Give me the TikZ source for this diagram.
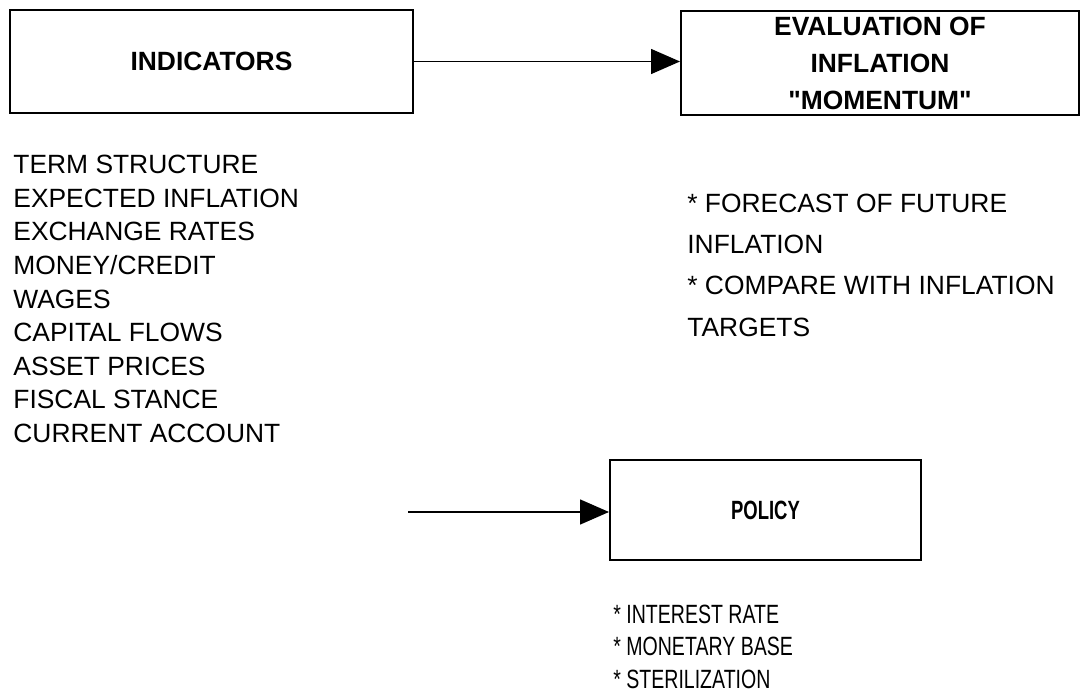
\documentclass[tikz,border=0pt]{standalone}
\usepackage{fontspec}
\usepackage{graphicx}
\setmainfont{Liberation Sans}[Ligatures=TeXOff]
\usetikzlibrary{arrows.meta,positioning}

\begin{document}
\begin{tikzpicture}[x=0.5pt,y=-0.5pt,
  box/.style={draw, line width=1pt, inner sep=0pt, align=center,
    font=\bfseries\fontsize{13.2}{18.5}\selectfont},
  item/.style={anchor=base west, inner sep=0pt, font=\fontsize{13.2}{16}\selectfont},
  link/.style={line width=0.75pt, -{Triangle[length=14.5pt,width=12.5pt]}}]
 \useasboundingbox (0,0) rectangle (1082,695);
 % boxes
 \node[box, minimum width=201.5pt, minimum height=51.5pt] (indicators) at (211.5,61.5) {INDICATORS};
 \node[box, minimum width=199pt, minimum height=52pt] (evaluation) at (880,63) {EVALUATION OF\\INFLATION\\"MOMENTUM"};
 \node[box, minimum width=155.5pt, minimum height=50pt] (policy) at (765.5,510) {\scalebox{0.7}[1]{POLICY}};
 % lists
 \foreach \txt [count=\i] in {TERM STRUCTURE, EXPECTED INFLATION, EXCHANGE RATES, MONEY/CREDIT, WAGES,
   CAPITAL FLOWS, ASSET PRICES, FISCAL STANCE, CURRENT ACCOUNT}
  \node[item] (ind\i) at (13,140.5+33.5*\i) {\txt};
 \foreach \txt [count=\i] in {* FORECAST OF FUTURE, INFLATION, * COMPARE WITH INFLATION, TARGETS}
  \node[item] (eval\i) at (687,172+41*\i) {\txt};
 \foreach \txt [count=\i] in {* INTEREST RATE, * MONETARY BASE, * STERILIZATION}
  \node[item] (pol\i) at (613,590.5+32.5*\i) {\scalebox{0.74}[1]{\txt}};
 % connectors
 \coordinate (polin) at (408,512);
 \draw[link] (indicators.east) -- (indicators.east -| evaluation.west);
 \draw[link] (polin) -- (polin -| policy.west);
\end{tikzpicture}
\end{document}
